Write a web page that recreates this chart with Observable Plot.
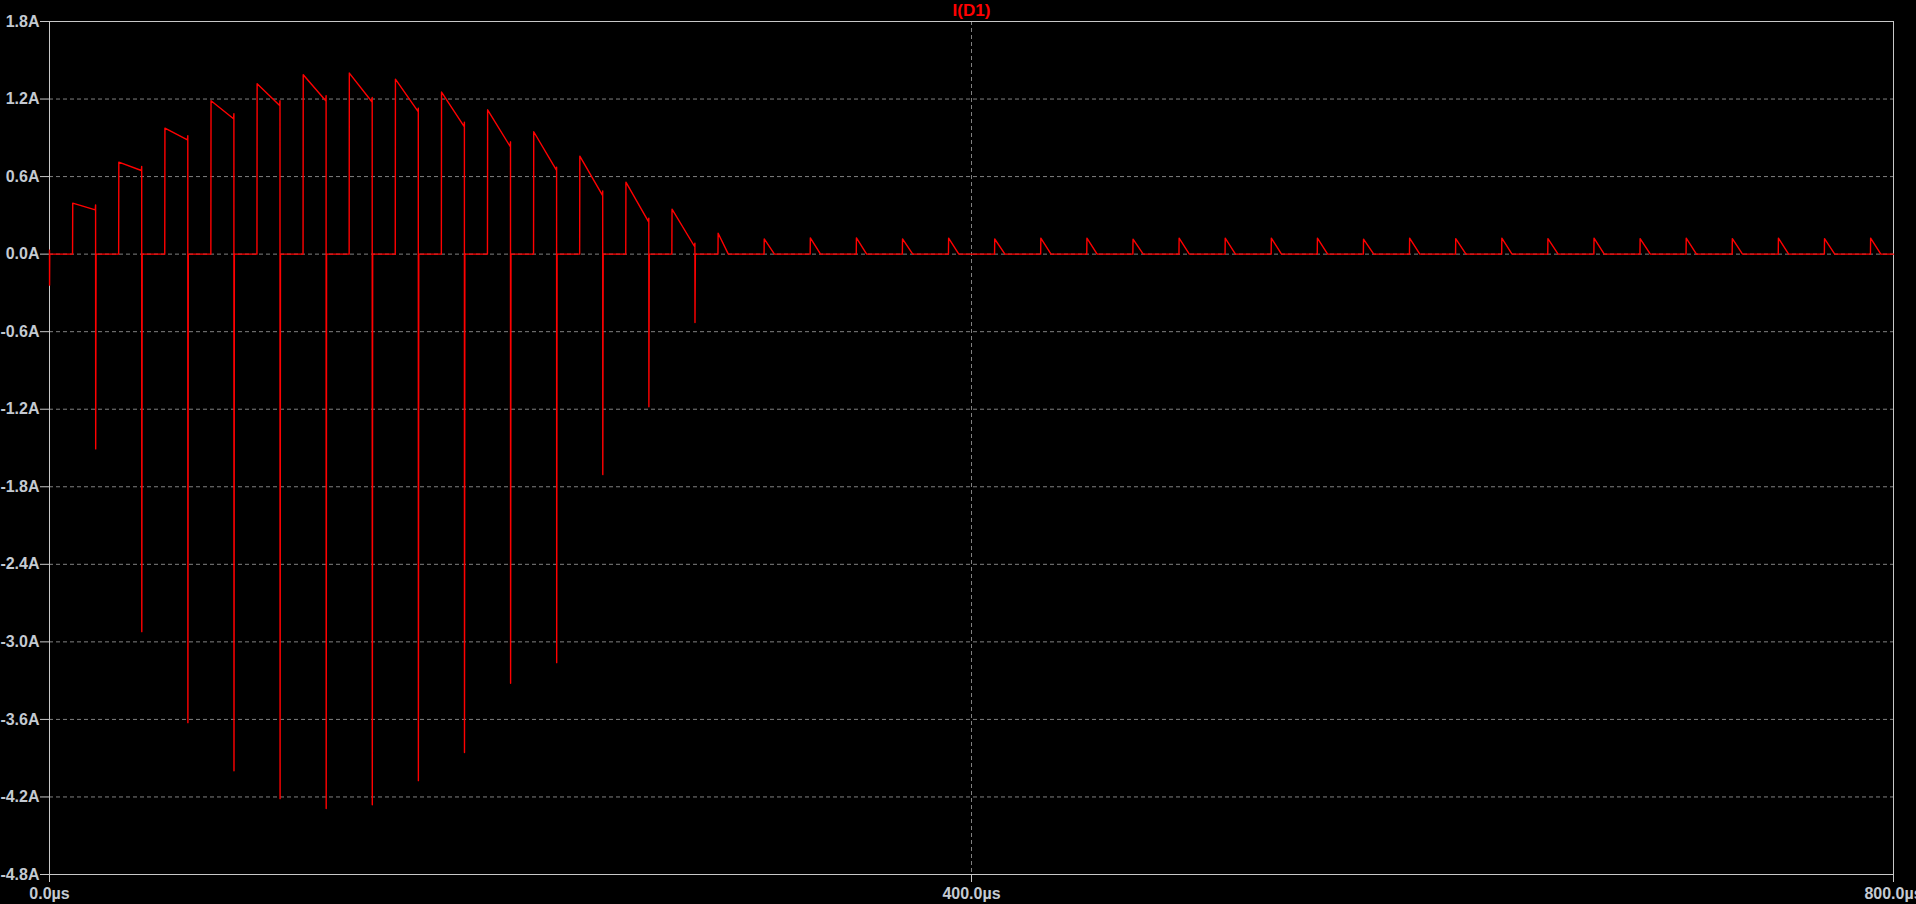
<!DOCTYPE html>
<html>
<head>
<meta charset="utf-8">
<script src="https://cdn.jsdelivr.net/npm/d3@7"></script>
<script src="https://cdn.jsdelivr.net/npm/@observablehq/plot@0.6"></script>
<style>
  html, body { margin: 0; padding: 0; background: #000; overflow: hidden; }
  #chart svg { display: block; background: #000; }
</style>
</head>
<body>
<div id="chart"></div>
<script>
// ---- data (I(D1), LTspice transient) ----
const title = "I(D1)";

const yTicks = [1.8, 1.2, 0.6, 0.0, -0.6, -1.2, -1.8, -2.4, -3.0, -3.6, -4.2, -4.8];
const yTickLabels = ["1.8A", "1.2A", "0.6A", "0.0A", "-0.6A", "-1.2A", "-1.8A", "-2.4A", "-3.0A", "-3.6A", "-4.2A", "-4.8A"];
const xTicks = [0, 400, 800];
const xTickLabels = ["0.0µs", "400.0µs", "800.0µs"];

// start-up transient at t = 0 (A)
const startA = [0.03, -0.24];

// conduction start of each pulse (µs)
const riseTimesUs = [10, 30, 50, 70, 90, 110, 130, 150, 170, 190, 210, 230, 250, 270,
  290, 310, 330, 350, 370, 390, 410, 430, 450, 470, 490, 510, 530, 550, 570, 590,
  610, 630, 650, 670, 690, 710, 730, 750, 770, 790];

// large pulses, ending in a reverse-recovery spike (µs / A)
const fallTimesUs = [20, 40, 60, 80, 100, 120, 140, 160, 180, 200, 220, 240, 260, 280];
const bigPeakA  = [0.395, 0.712, 0.975, 1.187, 1.318, 1.388, 1.401, 1.354, 1.254, 1.117, 0.947, 0.758, 0.557, 0.348];
const bigEndA   = [0.343, 0.647, 0.885, 1.047, 1.150, 1.187, 1.179, 1.104, 0.988, 0.833, 0.652, 0.456, 0.252, 0.059];
const bigKickA  = [0.381, 0.678, 0.916, 1.086, 1.187, 1.225, 1.212, 1.130, 1.021, 0.869, 0.673, 0.488, 0.279, 0.085];
const bigSpikeA = [-1.507, -2.921, -3.625, -3.997, -4.213, -4.290, -4.260, -4.074, -3.857, -3.320, -3.161, -1.706, -1.181, -0.529];

// small triangular pulses after the transient (A)
const smallPeakA = [0.162, 0.118, 0.126, 0.126, 0.118, 0.124, 0.117, 0.124, 0.124, 0.116,
  0.124, 0.124, 0.124, 0.124, 0.116, 0.124, 0.120, 0.124, 0.120, 0.124, 0.120, 0.124,
  0.120, 0.124, 0.120, 0.124];
const smallPulseWidthUs = 4.5;

// ---- build the trace ----
const pts = [];
pts.push({t: 0, i: startA[0]});
pts.push({t: 0.02, i: startA[1]});
pts.push({t: 0.1, i: 0});
riseTimesUs.forEach((r, k) => {
  if (k < fallTimesUs.length) {
    const f = fallTimesUs[k];
    pts.push({t: r, i: 0});
    pts.push({t: r + 0.08, i: bigPeakA[k]});
    pts.push({t: f - 0.15, i: bigEndA[k]});
    pts.push({t: f, i: bigKickA[k]});
    pts.push({t: f + 0.04, i: bigSpikeA[k]});
    pts.push({t: f + 0.2, i: 0});
  } else {
    const p = smallPeakA[k - fallTimesUs.length];
    pts.push({t: r, i: 0});
    pts.push({t: r + 0.08, i: p});
    pts.push({t: r + smallPulseWidthUs, i: 0});
  }
});
pts.push({t: 800, i: 0});

const frameColor = "#c8c8c8";
const gridColor = "#808080";
const labelColor = "#c4cad2";
const traceColor = "#ff0000";
const font = "'Liberation Sans', Arial, sans-serif";

const chart = Plot.plot({
  width: 1916,
  height: 904,
  marginTop: 21,
  marginBottom: 30,
  marginLeft: 49,
  marginRight: 23,
  style: {background: "#000", color: labelColor, fontFamily: font, fontSize: "16px", fontWeight: "bold"},
  x: {domain: [0, 800], axis: null, label: null},
  y: {domain: [-4.8, 1.8], axis: null, label: null},
  marks: [
    Plot.gridY(yTicks.slice(1, -1), {stroke: gridColor, strokeOpacity: 1, strokeDasharray: "4,3"}),
    Plot.gridX(xTicks.slice(1, -1), {stroke: gridColor, strokeOpacity: 1, strokeDasharray: "4,3"}),
    Plot.frame({stroke: frameColor}),
    Plot.axisY(yTicks, {
      anchor: "left", tickSize: 9, tickPadding: 1, label: null,
      tickFormat: d => yTickLabels[yTicks.indexOf(d)],
      stroke: frameColor, fill: labelColor,
      fontSize: 16, fontWeight: "bold", fontFamily: font
    }),
    Plot.axisX(xTicks, {
      anchor: "bottom", tickSize: 8, tickPadding: 5, label: null,
      tickFormat: d => xTickLabels[xTicks.indexOf(d)],
      stroke: frameColor, fill: labelColor,
      fontSize: 16, fontWeight: "bold", fontFamily: font
    }),
    Plot.line(pts, {x: "t", y: "i", stroke: traceColor, strokeWidth: 1.4}),
    Plot.text([title], {frameAnchor: "top", lineAnchor: "middle", dy: -10.5, fill: traceColor, fontSize: 17, fontWeight: "bold", fontFamily: font})
  ]
});
document.getElementById("chart").appendChild(chart);
</script>
</body>
</html>
